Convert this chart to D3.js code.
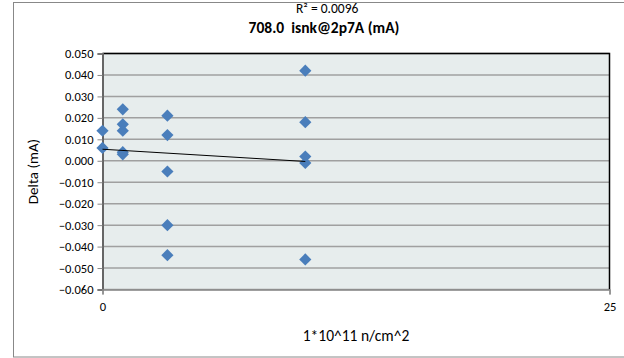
<!DOCTYPE html>
<html><head><meta charset="utf-8">
<script src="https://cdn.jsdelivr.net/npm/d3@7"></script>
<style>body{margin:0;background:#fff}svg{display:block}text{font-family:Calibri,Carlito,"Liberation Sans",Arial,sans-serif}</style>
</head><body>
<svg id="c" width="624" height="358"></svg>
<script>
const xValues = [0, 0, 1, 1, 1, 1, 1, 3.2, 3.2, 3.2, 3.2, 3.2, 10, 10, 10, 10, 10];
const yValues = [0.014, 0.006, 0.024, 0.017, 0.014, 0.004, 0.003, 0.021, 0.012, -0.005, -0.030, -0.044, 0.042, 0.018, 0.002, -0.001, -0.046];
const yTicks = [0.050, 0.040, 0.030, 0.020, 0.010, 0.000, -0.010, -0.020, -0.030, -0.040, -0.050, -0.060];
const xTicks = [0, 25];
const title = "708.0  isnk@2p7A (mA)";
const r2Label = "R² = 0.0096";
const xLabel = "1*10^11 n/cm^2";
const yLabel = "Delta (mA)";

const svg = d3.select("#c");
const L = 102.5, R = 609.5, T = 53.5, B = 289.5;
const x = d3.scaleLinear().domain([0, 25]).range([L, R]);
const y = d3.scaleLinear().domain([-0.060, 0.050]).range([B, T]);

// outer border
svg.append("rect").attr("x", 13.5).attr("y", 2.5).attr("width", 640).attr("height", 354.5)
  .attr("fill", "#fff").attr("stroke", "#888").attr("stroke-width", 1);

// plot background
svg.append("rect").attr("x", L).attr("y", T).attr("width", R - L).attr("height", B - T)
  .attr("fill", "#e7eded");

// gridlines
svg.append("g").selectAll("line").data(yTicks).join("line")
  .attr("x1", L).attr("x2", R).attr("y1", d => y(d)).attr("y2", d => y(d))
  .attr("stroke", "#a0a0a0").attr("stroke-width", 1.5);

// plot border (top/right black)
svg.append("path").attr("d", `M${L},${T}H${R}V${B}`).attr("fill", "none").attr("stroke", "#000").attr("stroke-width", 1.5);

// y axis
const yAxis = d3.axisLeft(y).tickValues(yTicks).tickFormat(d3.format(".3f")).tickSize(5).tickPadding(4);
const gy = svg.append("g").attr("transform", `translate(${L},0)`).call(yAxis);
gy.select(".domain").attr("stroke", "#666").attr("stroke-width", 2);
gy.selectAll(".tick line").attr("stroke", "#888");
gy.selectAll("text").attr("font-size", 12.5).attr("fill", "#000");

// x axis
const xAxis = d3.axisBottom(x).tickValues(xTicks).tickFormat(d3.format("d")).tickSize(5).tickPadding(8);
const gx = svg.append("g").attr("transform", `translate(0,${B})`).call(xAxis);
gx.select(".domain").attr("stroke", "#888").attr("stroke-width", 1.5);
gx.selectAll(".tick line").attr("stroke", "#888");
gx.selectAll("text").attr("font-size", 12.5).attr("fill", "#000");

// points
const sym = d3.symbol().type(d3.symbolDiamond2).size(95);
svg.append("g").selectAll("path").data(xValues.map((v, i) => [v, yValues[i]])).join("path")
  .attr("d", sym).attr("transform", d => `translate(${x(d[0])},${y(d[1])})`)
  .attr("fill", "#4a7ebb");

// linear trendline (least squares of the plotted data)
const n = xValues.length;
const mx = d3.mean(xValues), my = d3.mean(yValues);
let sxy = 0, sxx = 0;
for (let i = 0; i < n; i++) { sxy += (xValues[i] - mx) * (yValues[i] - my); sxx += (xValues[i] - mx) ** 2; }
const slope = sxy / sxx, icpt = my - slope * mx;
const x0 = d3.min(xValues), x1 = d3.max(xValues);
svg.append("line").attr("x1", x(x0)).attr("y1", y(icpt + slope * x0))
  .attr("x2", x(x1)).attr("y2", y(icpt + slope * x1)).attr("stroke", "#000").attr("stroke-width", 1);

// title
svg.append("text").attr("x", 324).attr("y", 33).attr("text-anchor", "middle").style("white-space", "pre")
  .attr("font-size", 15.5).attr("font-weight", "bold").text(title);
svg.append("text").attr("x", 296).attr("y", 13).attr("font-size", 13.5).text(r2Label);

// axis titles
svg.append("text").attr("x", 356).attr("y", 341).attr("text-anchor", "middle").attr("font-size", 15.5).text(xLabel);
svg.append("text").attr("transform", `translate(38,${(T + B) / 2}) rotate(-90)`).attr("text-anchor", "middle")
  .attr("font-size", 15).text(yLabel);
</script>
</body></html>
